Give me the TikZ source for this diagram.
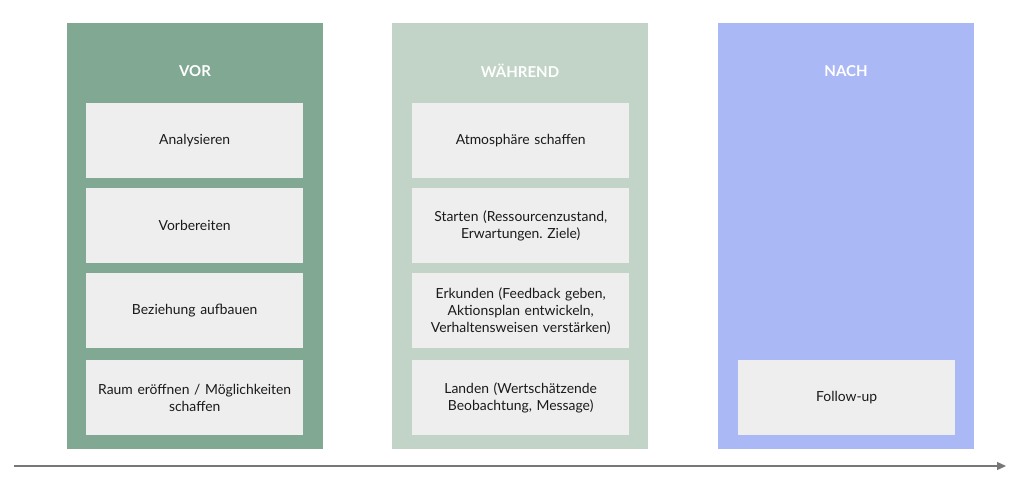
\documentclass[tikz,border=0pt]{standalone}
\usepackage{fontspec}
\setmainfont{Lato}
\usetikzlibrary{arrows.meta}
\definecolor{cvor}{HTML}{80A892}
\definecolor{cwah}{HTML}{C2D4C8}
\definecolor{cnach}{HTML}{AAB8F5}
\definecolor{cbox}{HTML}{EEEEEE}
\definecolor{ctxt}{HTML}{1A1A1A}
\definecolor{carr}{HTML}{777777}
\frenchspacing
\begin{document}
\begin{tikzpicture}[x=1pt,y=-1pt,
  col/.style={minimum width=256pt,minimum height=426pt,inner sep=0pt,anchor=north west},
  stepbox/.style={fill=cbox,minimum width=217pt,minimum height=75pt,inner sep=2pt,anchor=north west,
    align=center,font=\fontsize{13.9}{17}\selectfont,text=ctxt,text width=213pt},
  title/.style={text=white,font=\fontsize{15}{18}\selectfont\bfseries}]
\useasboundingbox (0,0) rectangle (1024,487);
\fill[white] (0,0) rectangle (1024,487);
\node[col,fill=cvor] (c1) at (67,23) {};
\node[col,fill=cwah] (c2) at (392,23) {};
\node[col,fill=cnach] (c3) at (718,23) {};
\node[title] (t1) at (195,71) {VOR};
\node[title] (t2) at (520,71) {WÄHREND};
\node[title] (t3) at (846,71) {NACH};
\node[stepbox] (a1) at (86,103) {Analysieren};
\node[stepbox] (a2) at (86,188) {Vorbereiten};
\node[stepbox] (a3) at (86,273) {Beziehung aufbauen};
\node[stepbox] (a4) at (86,360) {Raum eröffnen / Möglichkeiten\\schaffen};
\node[stepbox] (b1) at (412,103) {Atmosphäre schaffen};
\node[stepbox] (b2) at (412,188) {Starten (Ressourcenzustand,\\Erwartungen. Ziele)};
\node[stepbox] (b3) at (412,273) {Erkunden (Feedback geben,\\Aktionsplan entwickeln,\\Verhaltensweisen verstärken)};
\node[stepbox] (b4) at (412,360) {Landen (Wertschätzende\\Beobachtung, Message)};
\node[stepbox] (n1) at (738,360) {Follow-up};
\coordinate (s) at (14,466);
\coordinate (e) at (1006,466);
\draw[carr,line width=1.3pt,-{Triangle[length=9pt,width=8pt]}] (s) -- (e);
\end{tikzpicture}
\end{document}
